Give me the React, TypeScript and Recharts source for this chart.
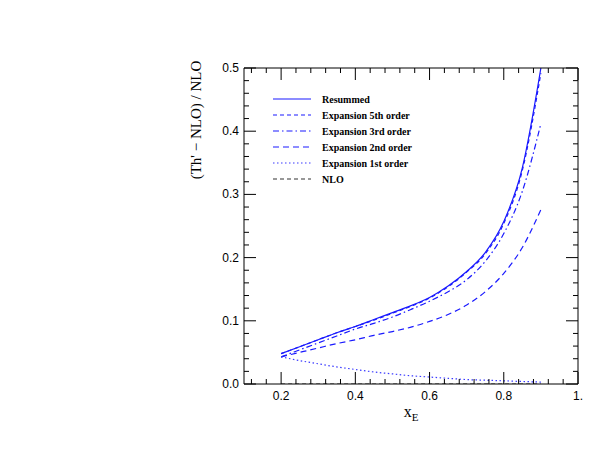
import React from "react";
import {
  LineChart,
  Line,
  XAxis,
  YAxis,
  Legend,
} from "recharts";

// x_E sample points
const xValues = [0.2, 0.25, 0.3, 0.35, 0.4, 0.45, 0.5, 0.55, 0.6, 0.65, 0.7, 0.75, 0.8, 0.85, 0.9];

// (Th' - NLO) / NLO for each curve
const resummed = [0.048, 0.059, 0.07, 0.081, 0.091, 0.102, 0.113, 0.124, 0.137, 0.155, 0.178, 0.208, 0.257, 0.342, 0.5];
const exp5th = [0.048, 0.059, 0.07, 0.081, 0.091, 0.101, 0.112, 0.123, 0.136, 0.154, 0.177, 0.206, 0.254, 0.338, 0.492];
const exp3rd = [0.043, 0.054, 0.065, 0.076, 0.087, 0.096, 0.106, 0.118, 0.131, 0.146, 0.165, 0.194, 0.238, 0.305, 0.412];
const exp2nd = [0.043, 0.05, 0.057, 0.064, 0.07, 0.077, 0.083, 0.09, 0.099, 0.11, 0.125, 0.146, 0.175, 0.216, 0.276];
const exp1st = [0.043, 0.037, 0.032, 0.027, 0.023, 0.019, 0.016, 0.013, 0.011, 0.009, 0.007, 0.006, 0.005, 0.004, 0.003];
const nlo = [0, 0, 0, 0, 0, 0, 0, 0, 0, 0, 0, 0, 0, 0, 0];

const xMajorTicks = [0.2, 0.4, 0.6, 0.8, 1.0];
const xTickLabels = ["0.2", "0.4", "0.6", "0.8", "1."];
const yMajorTicks = [0, 0.1, 0.2, 0.3, 0.4, 0.5];
const yTickLabels = ["0.0", "0.1", "0.2", "0.3", "0.4", "0.5"];

// minor ticks every 0.04 on x, 0.02 on y
const xTicks = Array.from({ length: 23 }, (_, i) => +(0.12 + 0.04 * i).toFixed(2));
const yTicks = Array.from({ length: 26 }, (_, i) => +(0.02 * i).toFixed(2));

const series = [
  { key: "resummed", name: "Resummed", color: "#1a1aff", dash: undefined as string | undefined },
  { key: "exp5th", name: "Expansion 5th order", color: "#1a1aff", dash: "4 3" },
  { key: "exp3rd", name: "Expansion 3rd order", color: "#1a1aff", dash: "6 3 1.5 3" },
  { key: "exp2nd", name: "Expansion 2nd order", color: "#1a1aff", dash: "6 4" },
  { key: "exp1st", name: "Expansion 1st order", color: "#3a3aff", dash: "1.5 2.5" },
  { key: "nlo", name: "NLO", color: "#333", dash: "4 3" },
];

const data = xValues.map((x, i) => ({
  x,
  resummed: resummed[i],
  exp5th: exp5th[i],
  exp3rd: exp3rd[i],
  exp2nd: exp2nd[i],
  exp1st: exp1st[i],
  nlo: nlo[i],
}));

const tickFont = { fontFamily: "Liberation Sans, Arial, sans-serif", fontSize: 12, fill: "#000" };

const findMajor = (v: number, majors: number[]) =>
  majors.findIndex((m) => Math.abs(m - v) < 1e-6);

const BottomTick = (props: any) => {
  const { x, y, payload } = props;
  const idx = findMajor(payload.value, xMajorTicks);
  return (
    <g>
      <line x1={x} y1={y} x2={x} y2={y - (idx >= 0 ? 12 : 5)} stroke="#000" strokeWidth={1} />
      {idx >= 0 && (
        <text x={x} y={y + 16} textAnchor="middle" {...tickFont}>
          {xTickLabels[idx]}
        </text>
      )}
    </g>
  );
};

const TopTick = (props: any) => {
  const { x, y, payload } = props;
  const major = findMajor(payload.value, xMajorTicks) >= 0;
  return <line x1={x} y1={y} x2={x} y2={y + (major ? 12 : 5)} stroke="#000" strokeWidth={1} />;
};

const LeftTick = (props: any) => {
  const { x, y, payload } = props;
  const idx = findMajor(payload.value, yMajorTicks);
  return (
    <g>
      <line x1={x} y1={y} x2={x + (idx >= 0 ? 12 : 5)} y2={y} stroke="#000" strokeWidth={1} />
      {idx >= 0 && (
        <text x={x - 5} y={y + 4} textAnchor="end" {...tickFont}>
          {yTickLabels[idx]}
        </text>
      )}
    </g>
  );
};

const RightTick = (props: any) => {
  const { x, y, payload } = props;
  const major = findMajor(payload.value, yMajorTicks) >= 0;
  return <line x1={x} y1={y} x2={x - (major ? 12 : 5)} y2={y} stroke="#000" strokeWidth={1} />;
};

const renderLegend = () => (
  <svg width={180} height={100}>
    {series.map((s, i) => (
      <g key={s.key}>
        <line
          x1={5}
          x2={43}
          y1={7 + i * 16}
          y2={7 + i * 16}
          stroke={s.color}
          strokeWidth={1.2}
          strokeDasharray={s.dash}
        />
        <text
          x={54}
          y={10.5 + i * 16}
          fontFamily="Liberation Serif, Times New Roman, serif"
          fontWeight="bold"
          fontSize={10}
          fill="#000"
        >
          {s.name}
        </text>
      </g>
    ))}
  </svg>
);

export default function App() {
  return (
    <div style={{ position: "absolute", left: 0, top: 0, width: 613, height: 473, background: "#fff" }}>
      <LineChart width={613} height={473} data={data} margin={{ top: 67, right: 34, bottom: 59, left: 204 }}>
        <XAxis
          xAxisId="bottom"
          dataKey="x"
          type="number"
          domain={[0.1, 1.0]}
          ticks={xTicks}
          interval={0}
          tick={<BottomTick />}
          tickLine={false}
          tickSize={0}
          tickMargin={0}
          height={30}
          axisLine={{ stroke: "#000" }}
          allowDataOverflow
          label={{
            content: (p: any) => {
              const vb = p.viewBox;
              const cx = vb.x + vb.width / 2;
              return (
                <text x={cx} y={vb.y + 33} textAnchor="middle" fontFamily="Liberation Serif, serif" fontSize={16} fill="#000">
                  x<tspan fontSize={11} dy={4}>E</tspan>
                </text>
              );
            },
          }}
        />
        <XAxis
          xAxisId="top"
          orientation="top"
          dataKey="x"
          type="number"
          domain={[0.1, 1.0]}
          ticks={xTicks}
          interval={0}
          tick={<TopTick />}
          tickLine={false}
          tickSize={0}
          tickMargin={0}
          height={1}
          axisLine={{ stroke: "#000" }}
          allowDataOverflow
        />
        <YAxis
          yAxisId="left"
          type="number"
          domain={[0, 0.5]}
          ticks={yTicks}
          interval={0}
          tick={<LeftTick />}
          tickLine={false}
          tickSize={0}
          tickMargin={0}
          width={40}
          axisLine={{ stroke: "#000" }}
          allowDataOverflow
          label={{
            content: (p: any) => {
              const vb = p.viewBox;
              const cx = vb.x - 8;
              const cy = vb.y + 52;
              return (
                <text
                  x={cx}
                  y={cy}
                  transform={`rotate(-90, ${cx}, ${cy})`}
                  textAnchor="middle"
                  dominantBaseline="central"
                  fontFamily="Liberation Serif, serif"
                  fontSize={15}
                  fill="#000"
                >
                  (Th' − NLO) / NLO
                </text>
              );
            },
          }}
        />
        <YAxis
          yAxisId="right"
          orientation="right"
          type="number"
          domain={[0, 0.5]}
          ticks={yTicks}
          interval={0}
          tick={<RightTick />}
          tickLine={false}
          tickSize={0}
          tickMargin={0}
          width={1}
          axisLine={{ stroke: "#000" }}
          allowDataOverflow
        />
        <Legend
          layout="vertical"
          align="center"
          verticalAlign="middle"
          content={renderLegend}
          wrapperStyle={{ left: 268, top: 92, width: 180, height: 100 }}
        />
        {series.map((s) => (
          <Line
            key={s.key}
            xAxisId="bottom"
            yAxisId="left"
            type="monotone"
            dataKey={s.key}
            name={s.name}
            stroke={s.color}
            strokeWidth={1.2}
            strokeDasharray={s.dash}
            dot={false}
            activeDot={false}
            isAnimationActive={false}
          />
        ))}
      </LineChart>
    </div>
  );
}
